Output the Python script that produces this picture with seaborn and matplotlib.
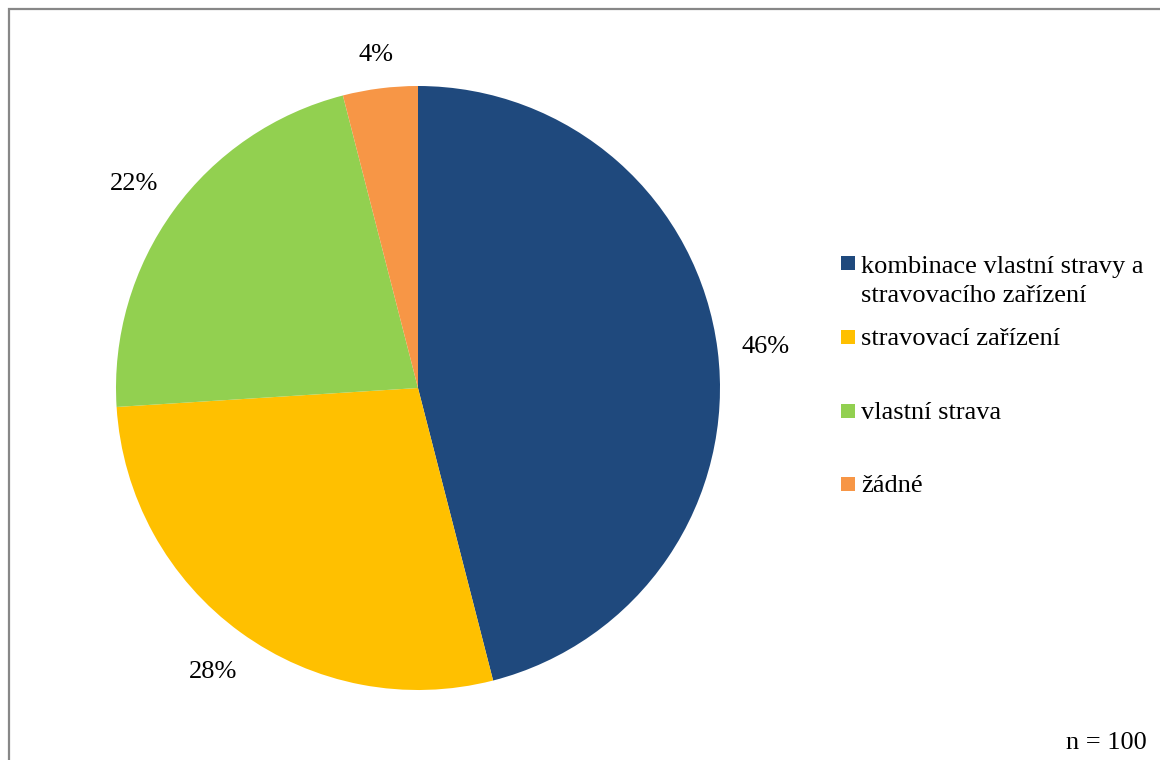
import numpy as np
import matplotlib
matplotlib.use("Agg")
import matplotlib.pyplot as plt
from matplotlib.patches import Rectangle
import seaborn as sns

# Meal options and share of respondents (percent)
categories = [
    "kombinace vlastní stravy a\nstravovacího zařízení",
    "stravovací zařízení",
    "vlastní strava",
    "žádné",
]
values = [46, 28, 22, 4]
colors = ["#1F497D", "#FFC000", "#92D050", "#F79646"]
sample_note = "n = 100"

sns.set_theme(style="white")
plt.rcParams["font.family"] = ["Liberation Serif", "DejaVu Serif"]

W, H = 1160, 760
FS = 19
fig = plt.figure(figsize=(W / 100, H / 100), dpi=100)
fig.patch.set_facecolor("white")

# Pie area: centre and radius in pixels
cx, cy, R = 418, 388, 302
ax = fig.add_axes([(cx - R) / W, (H - cy - R) / H, 2 * R / W, 2 * R / H])

palette = sns.color_palette(colors)
wedges, _, autotexts = ax.pie(
    values,
    colors=palette,
    startangle=90,
    counterclock=False,
    autopct="%.0f%%",
    pctdistance=1.15,
    wedgeprops=dict(linewidth=0),
    textprops=dict(fontsize=FS, color="black"),
)
ax.set_xlim(-1, 1)
ax.set_ylim(-1, 1)
ax.set_aspect("equal")
ax.axis("off")

# Keep each percentage label a fixed gap outside the rim, measured to its box edge
fig.canvas.draw()
renderer = fig.canvas.get_renderer()
gap_px = 23
for w, t in zip(wedges, autotexts):
    theta = np.deg2rad((w.theta1 + w.theta2) / 2)
    bb = t.get_window_extent(renderer)
    ext = abs(np.cos(theta)) * bb.width / 2 + abs(np.sin(theta)) * bb.height / 2
    d = (R + gap_px + ext) / R
    t.set_position((d * np.cos(theta), d * np.sin(theta)))
    t.set_ha("center")
    t.set_va("center_baseline")

# Legend drawn as squares with labels on the right
sq = 14
row_y = [263, 337, 411, 484]
line_px = 31
for lab, col, y in zip(categories, palette, row_y):
    fig.patches.append(Rectangle((841 / W, (H - y - sq / 2) / H), sq / W, sq / H,
                                 transform=fig.transFigure, facecolor=col,
                                 edgecolor="none"))
    n_extra = lab.count("\n")
    base = y + 8 + n_extra * line_px
    fig.text(861 / W, (H - base) / H, lab, fontsize=FS, ha="left",
             va="baseline", linespacing=1.41, color="black")

fig.text(1147 / W, (H - 743) / H, sample_note, fontsize=FS, ha="right",
         va="center", color="black")

# Grey frame around the chart area
fig.patches.append(Rectangle((8.5 / W, -0.1), 1.2, (H - 9.5) / H + 0.1,
                             transform=fig.transFigure, fill=False,
                             edgecolor="#878787", linewidth=1.6))

fig.savefig("out.png", dpi=100, facecolor="white")
